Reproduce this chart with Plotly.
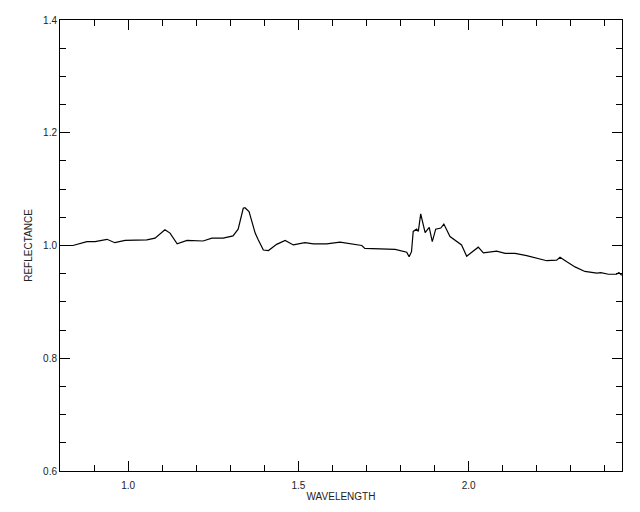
import plotly.graph_objects as go

wavelength = [0.800, 0.838, 0.879, 0.903, 0.938, 0.961, 0.991, 1.029, 1.055, 1.079,
              1.094, 1.108, 1.123, 1.144, 1.173, 1.220, 1.246, 1.279, 1.308, 1.323,
              1.338, 1.343, 1.355, 1.373, 1.382, 1.397, 1.412, 1.436, 1.461, 1.485,
              1.519, 1.544, 1.583, 1.622, 1.686, 1.695, 1.784, 1.818, 1.825, 1.832,
              1.837, 1.847, 1.852, 1.859, 1.872, 1.884, 1.893, 1.903, 1.918, 1.927,
              1.945, 1.969, 1.979, 1.994, 2.013, 2.028, 2.043, 2.082, 2.107, 2.136,
              2.170, 2.229, 2.258, 2.268, 2.288, 2.312, 2.341, 2.376, 2.388, 2.410,
              2.434, 2.441, 2.449]
reflectance = [1.000, 1.000, 1.007, 1.007, 1.011, 1.005, 1.009, 1.010, 1.010, 1.013,
               1.021, 1.028, 1.022, 1.003, 1.009, 1.008, 1.013, 1.013, 1.017, 1.029,
               1.066, 1.067, 1.060, 1.022, 1.010, 0.992, 0.991, 1.002, 1.009, 1.001,
               1.005, 1.003, 1.003, 1.006, 1.000, 0.995, 0.993, 0.988, 0.980, 0.989,
               1.025, 1.029, 1.025, 1.056, 1.023, 1.032, 1.007, 1.029, 1.031, 1.038,
               1.016, 1.006, 1.001, 0.981, 0.990, 0.997, 0.987, 0.990, 0.986, 0.986,
               0.982, 0.973, 0.974, 0.979, 0.971, 0.962, 0.954, 0.951, 0.952, 0.949,
               0.949, 0.952, 0.947]

x_range = [0.8, 2.45]
y_range = [0.6, 1.4]

fig = go.Figure()
fig.add_trace(go.Scatter(x=wavelength, y=reflectance, mode="lines",
                         line=dict(color="black", width=1.2), showlegend=False))

font = dict(family="Liberation Sans Narrow, Liberation Sans, Arial", size=10, color="#222222")

fig.update_xaxes(range=x_range, tickmode="linear", tick0=1.0, dtick=0.5, tickformat=".1f",
                 ticks="inside", ticklen=10, tickwidth=1, tickcolor="black",
                 showline=True, linecolor="black", linewidth=1, mirror="ticks",
                 showgrid=False, zeroline=False, tickfont=font, ticklabelstandoff=5,
                 minor=dict(tickmode="linear", tick0=0.0, dtick=0.1, ticks="inside",
                            ticklen=6, tickwidth=1, tickcolor="black", showgrid=False),
                 title=dict(text="WAVELENGTH", font=font, standoff=2))
fig.update_yaxes(range=y_range, tickmode="linear", tick0=0.6, dtick=0.2, tickformat=".1f",
                 ticks="inside", ticklen=10, tickwidth=1, tickcolor="black",
                 showline=True, linecolor="black", linewidth=1, mirror="ticks",
                 showgrid=False, zeroline=False, tickfont=font,
                 minor=dict(tickmode="linear", tick0=0.0, dtick=0.05, ticks="inside",
                            ticklen=6, tickwidth=1, tickcolor="black", showgrid=False),
                 title=dict(text="REFLECTANCE", font=font, standoff=8))

# page body has an 8px default margin, so the figure is reduced by that much
fig.update_layout(width=632, height=504,
                  margin=dict(l=52, r=18, t=12, b=41, autoexpand=False),
                  plot_bgcolor="white", paper_bgcolor="white")

fig.write_html("out.html")
